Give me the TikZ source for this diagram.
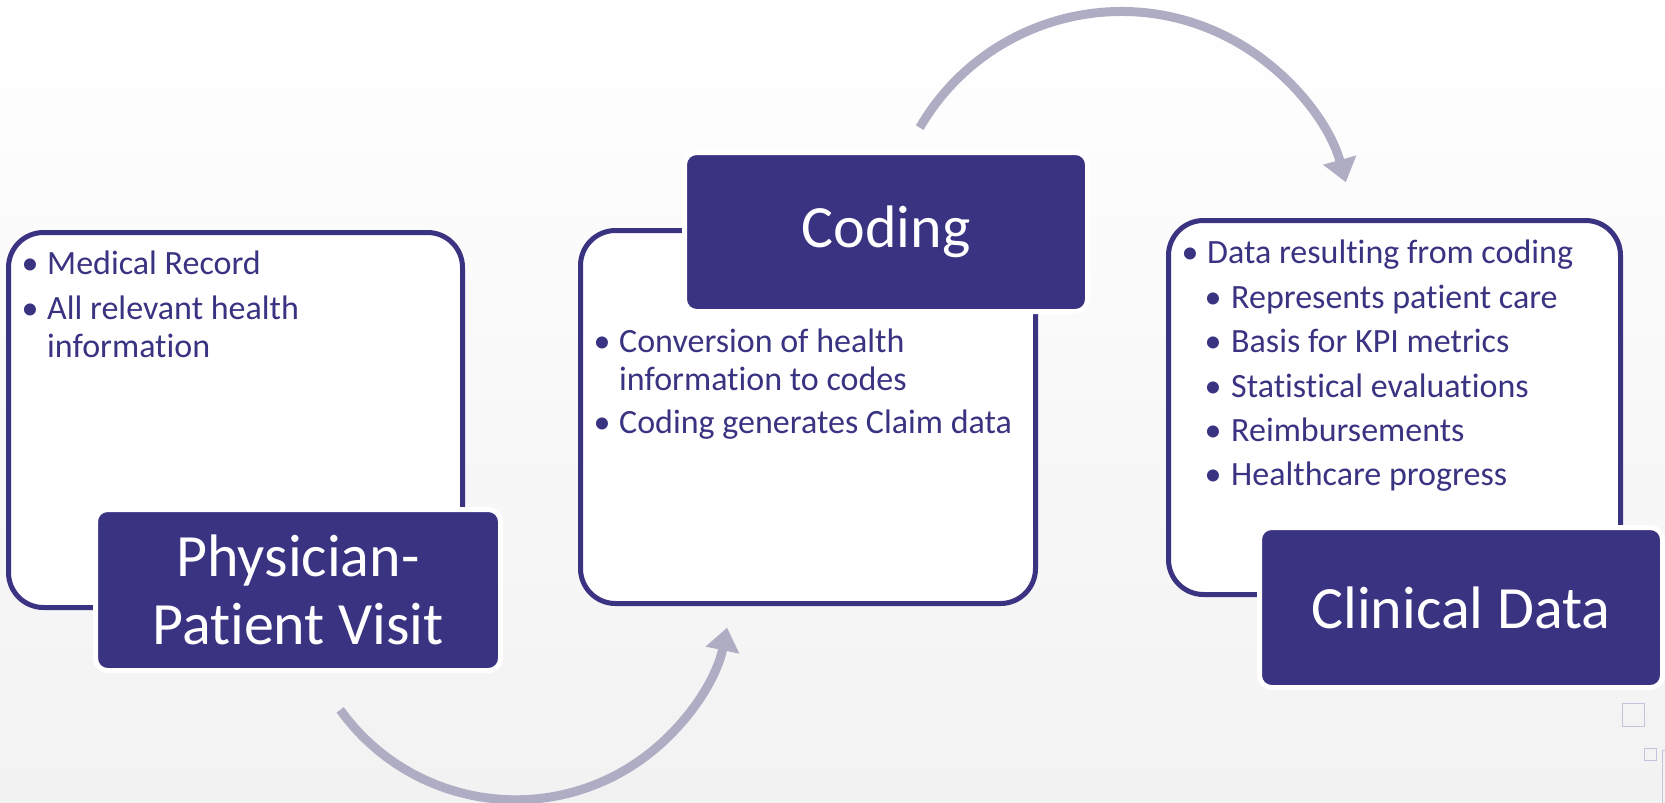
\documentclass[tikz,border=0pt]{standalone}
\usepackage{fontspec}
\setmainfont{Carlito}[Ligatures=NoCommon]
\usetikzlibrary{arrows.meta,calc}
\definecolor{indigo}{RGB}{57,51,130}
\definecolor{arrowc}{RGB}{175,173,195}
\definecolor{bgbot}{RGB}{242,242,242}
\definecolor{handle}{RGB}{196,194,220}
\newcommand{\bodyfont}{\fontsize{34}{37}\selectfont}
\newcommand{\titlefont}{\fontsize{60}{68}\selectfont}
\begin{document}
\begin{tikzpicture}[x=1pt,y=-1pt,
  panel/.style={rectangle, draw=indigo, line width=5pt, fill=white, rounded corners=35pt, inner sep=0},
  titlebox/.style={rectangle, draw=white, line width=5pt, fill=indigo, rounded corners=12pt, text=white, font=\titlefont, align=center, inner sep=0},
  txt/.style={anchor=base west, inner sep=0, text=indigo, font=\bodyfont},
  bul/.style={anchor=base, inner sep=0, text=indigo, font=\bodyfont},
  flow/.style={draw=arrowc, line width=9pt, -{Triangle[width=33pt,length=23pt]}},
  handlebox/.style={draw=handle, line width=1pt}
]
\useasboundingbox (0,0) rectangle (1665,803);
\shade[top color=white, bottom color=bgbot] (0,0) rectangle (1665,803);

% arrows
\coordinate (c1) at (515.6,583.8);
\coordinate (s1) at ($(c1)+(144.3:216)$);
\draw[flow] (s1) arc[start angle=144.3, end angle=11.7, radius=216];
\coordinate (c2) at (1121.3,244.5);
\coordinate (s2) at ($(c2)+(210.1:233)$);
\draw[flow] (s2) arc[start angle=210.1, end angle=344.5, radius=233];

% panels
\node[panel, minimum width=454pt, minimum height=375pt] (p1) at (235.5,420) {};
\node[panel, minimum width=455pt, minimum height=373pt] (p2) at (808,417) {};
\node[panel, minimum width=452pt, minimum height=374pt] (p3) at (1394.5,407.5) {};

% title boxes
\node[titlebox, minimum width=405pt, minimum height=161pt] (t1) at (298,590) {Physician-\\Patient Visit};
\node[titlebox, minimum width=403pt, minimum height=159pt] (t2) at (886,232) {Coding};
\node[titlebox, minimum width=403pt, minimum height=160pt] (t3) at (1461,607.5) {Clinical Data};

% panel 1 text
\node[bul] (b11) at (30,274) {•};
\node[txt] (l11) at (47,274) {Medical Record};
\node[bul] (b12) at (30,319) {•};
\node[txt] (l12) at (47,319) {All relevant health};
\node[txt] (l13) at (47,357) {information};

% panel 2 text
\node[bul] (b21) at (602,352) {•};
\node[txt] (l21) at (619,352) {Conversion of health};
\node[txt] (l22) at (619,390) {information to codes};
\node[bul] (b22) at (602,433) {•};
\node[txt] (l23) at (619,433) {Coding generates Claim data};

% panel 3 text
\node[bul] (b31) at (1190,263) {•};
\node[txt] (l31) at (1207,263) {Data resulting from coding};
\node[bul] (b32) at (1213,308) {•};
\node[txt] (l32) at (1231,308) {Represents patient care};
\node[bul] (b33) at (1213,352) {•};
\node[txt] (l33) at (1231,352) {Basis for KPI metrics};
\node[bul] (b34) at (1213,397) {•};
\node[txt] (l34) at (1231,397) {Statistical evaluations};
\node[bul] (b35) at (1213,441) {•};
\node[txt] (l35) at (1231,441) {Reimbursements};
\node[bul] (b36) at (1213,485) {•};
\node[txt] (l36) at (1231,485) {Healthcare progress};

% selection handles
\draw[handlebox] (1622,703) rectangle (1644,726);
\draw[handlebox] (1644,748) rectangle (1656,760);
\draw[handlebox] (1666,750) -- (1662,750) -- (1662,804);
\end{tikzpicture}
\end{document}
